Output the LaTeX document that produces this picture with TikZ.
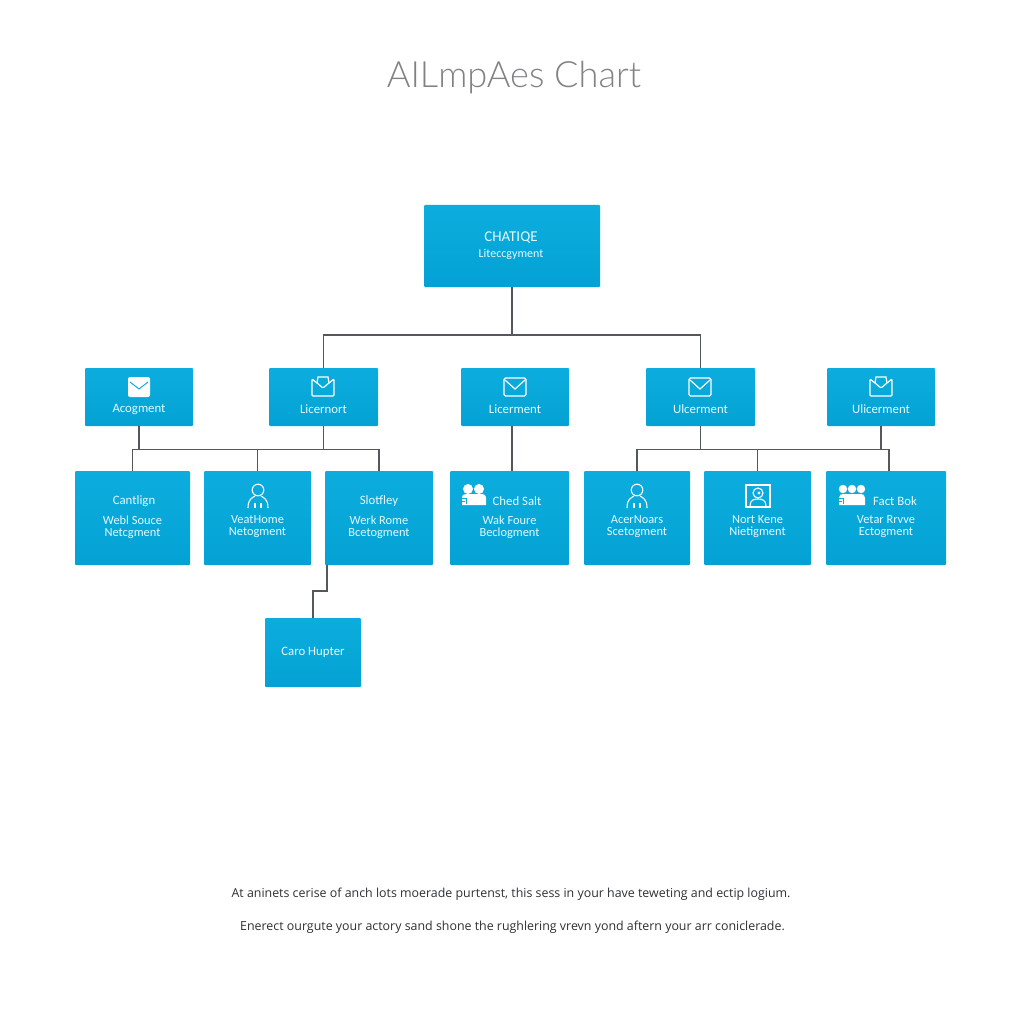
\documentclass[tikz,border=0pt]{standalone}
\usepackage{fontspec}
\setmainfont{Carlito}
\newfontfamily\titlefont{Lato Light}
\newfontfamily\notefont{Open Sans}
\usetikzlibrary{calc}
\definecolor{boxtop}{RGB}{12, 173, 222}
\definecolor{boxbot}{RGB}{4, 162, 212}
\definecolor{wirecol}{RGB}{84, 88, 94}
\definecolor{labelcol}{RGB}{226, 250, 255}
\definecolor{titlecol}{RGB}{128, 130, 133}
\definecolor{notecol}{RGB}{45, 48, 52}
\tikzset{
  orgbox/.style={rounded corners=1pt, top color=boxtop, bottom color=boxbot, draw=none, inner sep=0pt},
  wire/.style={draw=wirecol, line width=1.6pt},
  lbl/.style={text=labelcol, font=\fontsize{12.8}{13}\selectfont, inner sep=0pt},
  sublbl/.style={text=labelcol, font=\fontsize{12.4}{12}\selectfont, align=center, inner sep=0pt},
  notetxt/.style={text=notecol, font=\notefont\fontsize{12.4}{14}\selectfont, inner sep=0pt},
  mailopen/.pic={
    \draw[white, line width=1.2pt, rounded corners=1.5pt] (-11,-9) rectangle (11,9);
    \draw[white, line width=1.2pt] (-10,-7) -- (0,2) -- (10,-7);
  },
  mailfill/.pic={
    \fill[white, rounded corners=2pt] (-11,-10) rectangle (11,10);
    \draw[boxtop, line width=1pt] (-9,-5) -- (0,2) -- (9,-5);
  },
  mailclip/.pic={
    \draw[white, line width=1.2pt, rounded corners=1pt] (-11,-8) -- (-11,9) -- (11,9) -- (11,-8) -- (6,-4) -- (0,1) -- (-6,-4) -- cycle;
    \draw[white, line width=1.2pt] (-6,-4) -- (-5,-10) -- (5,-10) -- (6,-4);
  },
  person/.pic={
    \draw[white, line width=1.1pt] (0,-6) circle (5.8);
    \draw[white, line width=1.1pt] (-10,12) .. controls (-10,3) and (-6,2) .. (-3,0);
    \draw[white, line width=1.1pt] (10,12) .. controls (10,3) and (6,2) .. (3,0);
    \draw[white, line width=1.1pt] (-3,12) -- (-3,7) (3,12) -- (3,7);
  },
  portrait/.pic={
    \draw[white, line width=1.2pt] (-12,-11) rectangle (12,11);
    \draw[white, line width=1.1pt] (0,-3) circle (5);
    \draw[white, line width=1.1pt] (-8,10) .. controls (-8,4) and (-4,3) .. (0,3) .. controls (4,3) and (8,4) .. (8,10);
    \fill[white] (1,-3) circle (1.6);
  },
  trio/.pic={
    \fill[white] (-6,-6) circle (5) (5,-6) circle (5);
    \fill[white] (-12,10) -- (-12,3) .. controls (-12,-1) and (-9,-1) .. (-6,-1) -- (5,-1) .. controls (9,-1) and (12,-1) .. (12,3) -- (12,10) -- cycle;
    \draw[boxtop, line width=.8pt] (-12,3) -- (-8,3) -- (-8,9);
    \draw[boxtop, line width=.8pt] (-12,6) -- (-9,6);
  },
  quad/.pic={
    \fill[white] (-9,-6) circle (4.2) (0,-6) circle (4.2) (9,-6) circle (4.2);
    \fill[white] (-13,10) -- (-13,3) .. controls (-13,0) and (-11,-1) .. (-9,-1) -- (9,-1) .. controls (11,-1) and (13,0) .. (13,3) -- (13,10) -- cycle;
    \draw[boxtop, line width=.8pt] (-13,3) -- (-9,3) -- (-9,9);
    \draw[boxtop, line width=.8pt] (-13,6) -- (-10,6);
  }
}

\begin{document}
\begin{tikzpicture}[x=1pt, y=-1pt]
  \useasboundingbox (0,0) rectangle (1024,1024);

  \node[text=titlecol, font=\titlefont\fontsize{36.2}{40}\selectfont, inner sep=0pt] (title) at (514,78) {AILmpAes Chart};

  % top box
  \node[orgbox, minimum width=176pt, minimum height=82pt] (root) at (512,246) {};
  \node[lbl, font=\fontsize{15}{15}\selectfont] (roothead) at (511,238) {CHATIQE};
  \node[lbl, font=\fontsize{12}{12}\selectfont] (rootsub) at (511,254) {Liteccgyment};

  % second row
  \foreach \nm/\cx/\bw/\txt in {l1/139/108/Acogment, l2/323.5/109/Licernort, l3/515/108/Licerment, l4/700.5/109/Ulcerment, l5/881/108/Ulicerment}{
    \node[orgbox, minimum width=\bw pt, minimum height=58pt] (\nm) at (\cx,397) {};
    \node[lbl] (\nm t) at (\cx,409) {\txt};
  }
  \pic at (139,387) {mailfill};
  \pic at (323,387) {mailclip};
  \pic at (515,387) {mailopen};
  \pic at (700,387) {mailopen};
  \pic at (881,387) {mailclip};

  % third row
  \foreach \nm/\cx/\bw/\txt in {c1/132.5/115/{Webl Souce\\Netcgment}, c2/257.5/107/{VeatHome\\Netogment}, c3/379/108/{Werk Rome\\Bcetogment}, c4/509.5/119/{Wak Foure\\Beclogment}, c5/637/106/{AcerNoars\\Scetogment}, c6/757.5/107/{Nort Kene\\Nietigment}, c7/886/120/{Vetar Rrvve\\Ectogment}}{
    \node[orgbox, minimum width=\bw pt, minimum height=94pt] (\nm) at (\cx,518) {};
    \node[sublbl] (\nm t) at (\cx,527) {\txt};
  }
  \node[lbl] (c1h) at (134,501) {Cantlign};
  \node[lbl] (c3h) at (379,501) {Slotfley};
  \node[lbl] (c4h) at (517,501) {Ched Salt};
  \node[lbl] (c7h) at (895,501) {Fact Bok};
  \pic at (258,496) {person};
  \pic at (637,496) {person};
  \pic at (758,496) {portrait};
  \pic at (474,495) {trio};
  \pic at (852,495) {quad};

  % lone box
  \node[orgbox, minimum width=96pt, minimum height=69pt] (low) at (313,652.5) {};
  \node[lbl] (lowt) at (313,652) {Caro Hupter};

  % connectors
  \draw[wire] (root.south) -- ++(0,48) coordinate (busT);
  \draw[wire] (l2.north) -- (l2.north |- busT) -- (l4.north |- busT) -- (l4.north);

  \coordinate (busL) at (323,449.5);
  \draw[wire] (l1.south) -- (l1.south |- busL);
  \draw[wire] (l2.south) -- (l2.south |- busL);
  \draw[wire] (c1.north) -- (c1.north |- busL) -- (c3.north |- busL) -- (c3.north);
  \draw[wire] (c2.north) -- (c2.north |- busL);

  \draw[wire] ([xshift=-3pt]l3.south) -- ([xshift=2.5pt]c4.north);

  \coordinate (busR) at (701,449.5);
  \draw[wire] (l4.south) -- (l4.south |- busR);
  \draw[wire] (l5.south) -- (l5.south |- busR);
  \draw[wire] (c5.north) -- (c5.north |- busR) -- ([xshift=3pt]c7.north |- busR) -- ([xshift=3pt]c7.north);
  \draw[wire] (c6.north) -- (c6.north |- busR);

  \draw[wire] ([xshift=-52pt]c3.south) -- ++(0,26) -| (low.north);

  % footer
  \node[notetxt] (note1) at (511,894) {At aninets cerise of anch lots moerade purtenst, this sess in your have teweting and ectip logium.};
  \node[notetxt] (note2) at (512.5,927) {Enerect ourgute your actory sand shone the rughlering vrevn yond aftern your arr coniclerade.};
\end{tikzpicture}
\end{document}
